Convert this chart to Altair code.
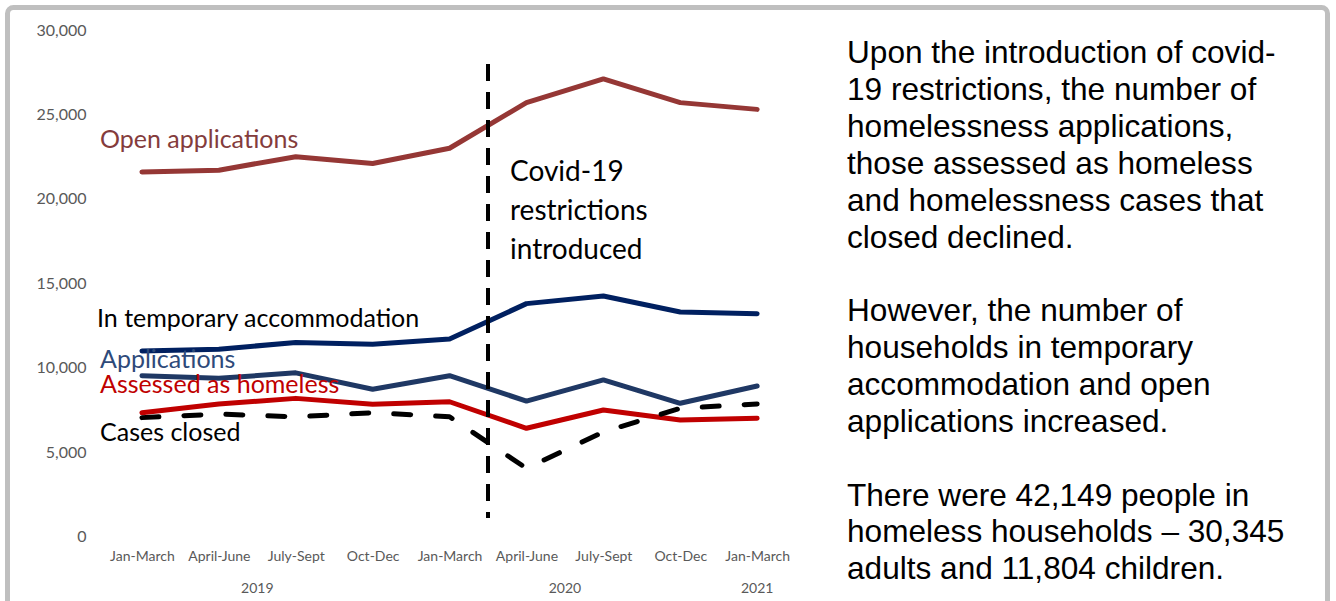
import json
import altair as alt
import pandas as pd

# ---------------- data ----------------
quarters = ["Jan-March", "April-June", "July-Sept", "Oct-Dec",
            "Jan-March", "April-June", "July-Sept", "Oct-Dec", "Jan-March"]
quarter_years = ["2019", "2019", "2019", "2019",
                 "2020", "2020", "2020", "2020", "2021"]

series_names = ["Open applications", "In temporary accommodation",
                "Applications", "Assessed as homeless", "Cases closed"]
open_applications = [21600, 21700, 22500, 22100, 23000, 25700, 27100, 25700, 25300]
temporary_accommodation = [11000, 11100, 11500, 11400, 11700, 13800, 14250, 13300, 13200]
applications = [9530, 9380, 9700, 8730, 9530, 8030, 9280, 7900, 8920]
assessed_homeless = [7340, 7860, 8190, 7840, 7990, 6420, 7500, 6910, 7010]
cases_closed = [7050, 7260, 7100, 7340, 7100, 4050, 6200, 7600, 7860]

y_ticks = [0, 5000, 10000, 15000, 20000, 25000, 30000]
covid_break_after = 4  # restrictions introduced after the 5th quarter (Jan-March 2020)

commentary_paragraphs = [
    ["Upon the introduction of covid-",
     "19 restrictions, the number of",
     "homelessness applications,",
     "those assessed as homeless",
     "and homelessness cases that",
     "closed declined."],
    ["However, the number of",
     "households in temporary",
     "accommodation and open",
     "applications increased."],
    ["There were 42,149 people in",
     "homeless households \u2013 30,345",
     "adults and 11,804 children."],
]
covid_note = ["Covid-19", "restrictions", "introduced"]

# ---------------- tables ----------------
all_values = [open_applications, temporary_accommodation, applications,
              assessed_homeless, cases_closed]
rows = []
for name, vals in zip(series_names, all_values):
    for i, v in enumerate(vals):
        rows.append({"series": name, "idx": i, "value": v})
df = pd.DataFrame(rows)

year_rows = []
for yr in sorted(set(quarter_years)):
    idxs = [i for i, y in enumerate(quarter_years) if y == yr]
    year_rows.append({"year": yr, "pos": sum(idxs) / len(idxs)})
years_df = pd.DataFrame(year_rows)

colors = ["#953735", "#002060", "#1F3864", "#C00000", "#000000"]
label_colors = ["#843C3C", "#000000", "#2E4A7A", "#C00000", "#000000"]

PAD_L, PAD_T = 103.5, 30
W, H = 692.1, 506.7
FONT = "Lato"

x_scale = alt.Scale(domain=[-0.5, len(quarters) - 0.5], nice=False, zero=False)
y_scale = alt.Scale(domain=[0, 30000], nice=False)

label_expr = json.dumps(quarters) + "[datum.value]"

base = alt.Chart(df)

x_enc = alt.X("idx:Q", scale=x_scale,
              axis=alt.Axis(values=list(range(len(quarters))), labelExpr=label_expr,
                            grid=False, domain=False, ticks=False, title=None,
                            labelFont=FONT, labelFontSize=14, labelColor="#595959",
                            labelPadding=13, labelFlush=False, labelOverlap=False))
y_enc = alt.Y("value:Q", scale=y_scale,
              axis=alt.Axis(values=y_ticks, format=",.0f", grid=False, domain=False,
                            ticks=False, title=None, labelFont=FONT, labelFontSize=16,
                            labelColor="#595959", labelPadding=17.5))

solid = base.transform_filter(alt.datum.series != "Cases closed").mark_line(
    strokeWidth=5, strokeCap="round", strokeJoin="round"
).encode(
    x=x_enc, y=y_enc,
    color=alt.Color("series:N", scale=alt.Scale(domain=series_names, range=colors), legend=None),
    detail="series:N",
)

dashed = base.transform_filter(alt.datum.series == "Cases closed").mark_line(
    strokeWidth=5, strokeCap="round", strokeJoin="round", strokeDash=[17, 25], color="#000000"
).encode(x=alt.X("idx:Q", scale=x_scale), y=alt.Y("value:Q", scale=y_scale))

covid_rule = alt.Chart(pd.DataFrame({"pos": [covid_break_after + 0.5]})).mark_rule(
    color="#000000", strokeWidth=4, strokeDash=[17, 11]
).encode(
    x=alt.X("pos:Q", scale=x_scale),
    y=alt.value(64 - PAD_T),
    y2=alt.value(518 - PAD_T),
)

year_text = alt.Chart(years_df).mark_text(
    font=FONT, fontSize=14, color="#595959", align="center", baseline="alphabetic"
).encode(
    x=alt.X("pos:Q", scale=x_scale),
    y=alt.value(593.3 - PAD_T),
    text="year:N",
)


def label(text, x, y, color, size, line_height=None, font=FONT):
    kw = dict(text=text, font=font, fontSize=size, color=color, align="left",
              baseline="alphabetic")
    if line_height is not None:
        kw["lineHeight"] = line_height
    return alt.Chart(alt.Data(values=[{}])).mark_text(**kw).encode(
        x=alt.value(x - PAD_L), y=alt.value(y - PAD_T))


series_label_pos = {
    "Open applications": (100, 148),
    "In temporary accommodation": (97, 326.7),
    "Applications": (100, 368.3),
    "Assessed as homeless": (100, 393.3),
    "Cases closed": (100, 441),
}
series_labels = [
    label(name, *series_label_pos[name], lc, 25)
    for name, lc in zip(series_names, label_colors)
]

covid_label = label(covid_note, 510, 181, "#000000", 28, line_height=39)

LINE_H = 36.86
commentary_layers = []
line_no = 0
for para in commentary_paragraphs:
    commentary_layers.append(
        label(para, 847, 63.3 + line_no * LINE_H, "#000000", 31.6,
              line_height=LINE_H, font="Liberation Sans"))
    line_no += len(para) + 1

frame = alt.Chart(alt.Data(values=[{}])).mark_rect(
    fill="transparent", stroke="#BFBFBF", strokeWidth=5, cornerRadius=6
).encode(
    x=alt.value(7.5 - PAD_L), x2=alt.value(1327.5 - PAD_L),
    y=alt.value(7.5 - PAD_T), y2=alt.value(640 - PAD_T),
)

chart = alt.layer(
    frame, solid, dashed, covid_rule, year_text, *series_labels, covid_label, *commentary_layers
).properties(
    width=W, height=H,
    autosize="none",
    padding={"left": PAD_L, "top": PAD_T, "right": 1336 - PAD_L - W, "bottom": 601 - PAD_T - H},
    background="#FFFFFF",
).configure_view(strokeWidth=0)

chart.save("out.html", embed_options={"renderer": "svg", "actions": False})
